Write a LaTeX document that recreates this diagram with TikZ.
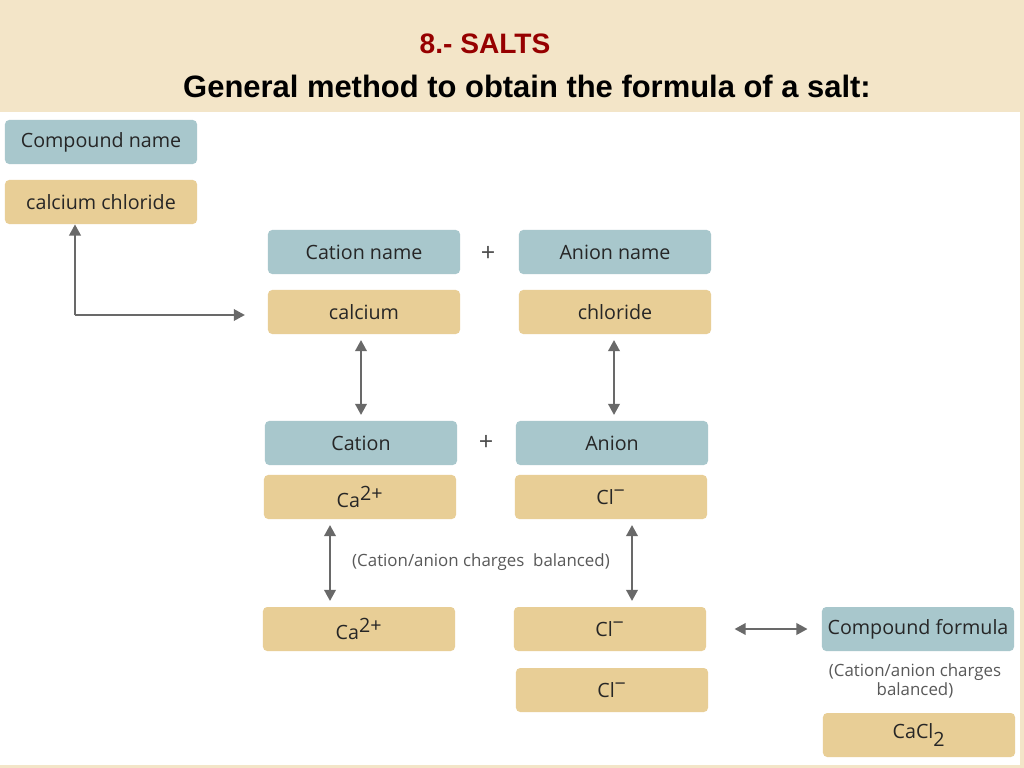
\documentclass[tikz,border=0pt]{standalone}
\usepackage{fontspec}
\setmainfont{Open Sans}
\newfontfamily\titlefont{Liberation Sans}
\usetikzlibrary{positioning,arrows.meta}
\definecolor{parch}{RGB}{243,229,200}
\definecolor{boxblue}{RGB}{168,199,204}
\definecolor{boxtan}{RGB}{232,206,150}
\definecolor{arrgray}{RGB}{105,105,105}
\definecolor{titlered}{RGB}{150,0,0}
\tikzset{
  namebox/.style={fill=boxblue, rounded corners=3pt, minimum width=4.8cm, minimum height=1.1cm, inner sep=0pt, font=\fontsize{14}{16}\selectfont, text=black!85},
  valbox/.style={namebox, fill=boxtan},
  link/.style={draw=arrgray, line width=2pt, -{Triangle[length=8pt,width=8pt]}},
  dlink/.style={link, {Triangle[length=8pt,width=8pt]}-{Triangle[length=8pt,width=8pt]}, shorten >=4pt, shorten <=4pt},
  note/.style={font=\fontsize{12}{14}\selectfont, text=black!65, align=center}
}
\begin{document}
\begin{tikzpicture}[x=0.025cm, y=-0.025cm]
    % Background
    \fill[parch] (0,0) rectangle (1024,768);
    \fill[white] (0,112) rectangle (1020,765);
    \useasboundingbox (0,0) rectangle (1024,768);
    % Title
    \node[font=\titlefont\bfseries\fontsize{20}{22}\selectfont, text=titlered] (num) at (485,44) {8.- SALTS};
    \node[font=\titlefont\bfseries\fontsize{22}{24}\selectfont] (title) at (527,86) {General method to obtain the formula of a salt:};
    % Compound name
    \node[namebox] (cname) at (101,142) {Compound name};
    \node[valbox] (cval) at (101,202) {calcium chloride};
    % Names
    \node[namebox] (catname) at (364,252) {Cation name};
    \node[valbox] (catval) at (364,312) {calcium};
    \node[namebox] (anname) at (615,252) {Anion name};
    \node[valbox] (anval) at (615,312) {chloride};
    \node[font=\fontsize{18}{20}\selectfont, text=black!70] (plusa) at (488,254) {+};
    % Ions
    \node[namebox] (cation) at (361,443) {Cation};
    \node[valbox] (caion) at (360,497) {Ca\textsuperscript{\fontsize{14}{14}\selectfont 2+}};
    \node[namebox] (anion) at (612,443) {Anion};
    \node[valbox] (clion) at (611,497) {Cl\textsuperscript{\fontsize{14}{14}\selectfont\textminus}};
    \node[font=\fontsize{18}{20}\selectfont, text=black!70] (plusb) at (486,443) {+};
    % Balanced ions
    \node[valbox] (cab) at (359,629) {Ca\textsuperscript{\fontsize{14}{14}\selectfont 2+}};
    \node[valbox] (clb) at (610,629) {Cl\textsuperscript{\fontsize{14}{14}\selectfont\textminus}};
    \node[valbox] (clc) at (612,690) {Cl\textsuperscript{\fontsize{14}{14}\selectfont\textminus}};
    \node[note] (bal) at (481,562) {(Cation/anion charges\ \ balanced)};
    % Formula
    \node[namebox] (fname) at (918,629) {Compound formula};
    \node[note] (fbal) at (915,681) {(Cation/anion charges\\balanced)};
    \node[valbox] (fval) at (919,735) {CaCl\textsubscript{\fontsize{14}{14}\selectfont 2}};
    % Arrows
    \coordinate (corner) at (75,315);
    \draw[link] (corner) -- (cval.south -| corner);
    \draw[link] (corner) -- (245,315);
    \draw[dlink] (catval.south -| 361,0) -- (cation.north -| 361,0);
    \draw[dlink] (anval.south -| 614,0) -- (anion.north -| 614,0);
    \draw[dlink] (caion.south -| 330,0) -- (cab.north -| 330,0);
    \draw[dlink] (clion.south -| 632,0) -- (clb.north -| 632,0);
    \draw[dlink, shorten >=10pt, shorten <=20pt] (clb.east) -- (fname.west);
\end{tikzpicture}
\end{document}
